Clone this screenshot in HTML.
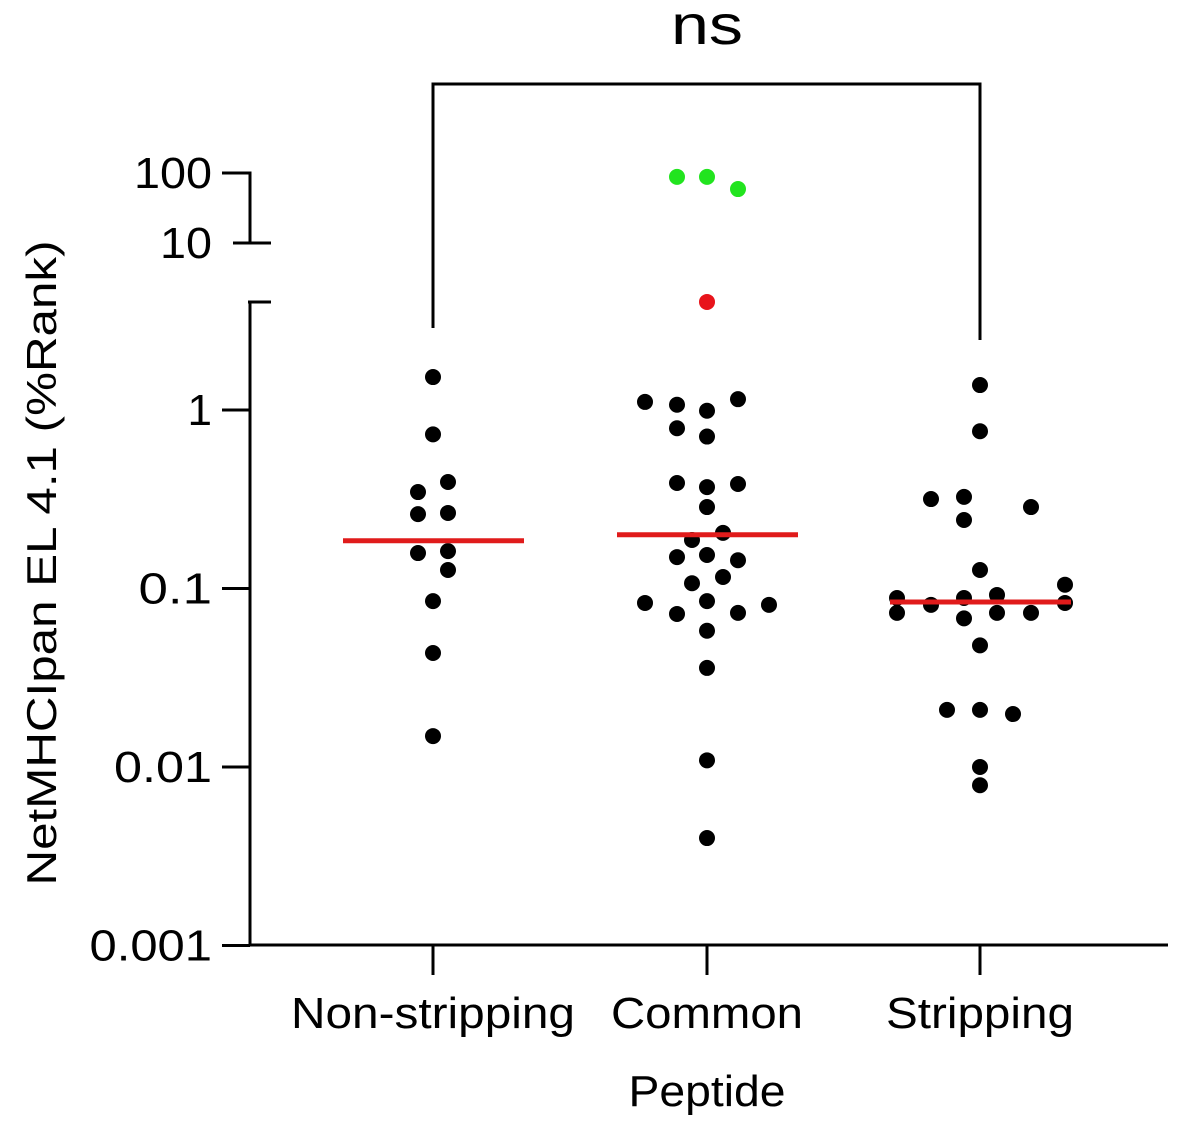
<!DOCTYPE html>
<html><head><meta charset="utf-8"><style>
html,body{margin:0;padding:0;background:#fff;}
svg{display:block;font-family:"Liberation Sans",Arial,sans-serif;}
</style></head><body>
<svg id="chart" width="1184" height="1133" viewBox="0 0 1184 1133">
<g id="axes"></g>
<g id="marks"></g>
</svg>
<script>
const categories = ["Non-stripping","Common","Stripping"];
const nonStripVals = [1.53,0.73,0.395,0.347,0.265,0.261,0.162,0.158,0.127,0.085,0.0435,0.0149];
const nonStripJit  = [0,0,15,-15,15,-15,15,-15,15,0,0,0];
const commonVals = [1.11,1.07,0.99,1.15,0.79,0.71,0.39,0.37,0.385,0.286,0.205,0.187,0.15,0.154,0.144,0.116,0.107,0.083,0.085,0.072,0.073,0.081,0.058,0.0359,0.0109,0.004];
const commonJit  = [-62,-30,0,31,-30,0,-30,0,31,0,16,-15,-30,0,31,16,-15,-62,0,-30,31,62,0,0,0,0];
const strippingVals = [1.38,0.76,0.317,0.326,0.242,0.286,0.127,0.105,0.0885,0.073,0.081,0.0885,0.068,0.092,0.073,0.073,0.083,0.048,0.0209,0.0209,0.0198,0.01,0.0079];
const strippingJit  = [0,0,-49,-16,-16,51,0,85,-83,-83,-49,-16,-16,17,17,51,85,0,-33,0,33,0,0];
const outlierRedVals = [4.03];
const outlierGreenVals = [88,88,59];
const outlierGreenJit = [-30,0,31];
const medians = [0.185,0.2,0.084];
const lowerTicks = [1,0.1,0.01,0.001];
const lowerTickLabels = ["1","0.1","0.01","0.001"];
const upperTicks = [100,10];
const upperTickLabels = ["100","10"];

const NS="http://www.w3.org/2000/svg";
const axes=document.getElementById('axes'), marks=document.getElementById('marks');
function yLow(v){return 410-Math.log10(v)*178.5;}
function yUp(v){return 173+(2-Math.log10(v))*70;}
function xCat(i){return [433,707,980][i];}
function mk(tag,attrs,parent){const e=document.createElementNS(NS,tag);for(const k in attrs)e.setAttribute(k,attrs[k]);parent.appendChild(e);return e;}
function line(x1,y1,x2,y2,name,col,w){const l=mk('line',{x1,y1,x2,y2,stroke:col||'#000','stroke-width':w||3},axes);

return l;}
function text(x,y,s,size,anchor,name,len){const t=mk('text',{x,y,'font-size':size,'text-anchor':anchor||'middle',fill:'#000'},axes);t.textContent=s;
if(len){t.setAttribute('textLength',len);t.setAttribute('lengthAdjust','spacingAndGlyphs');}

return t;}

line(250,302,250,946.5,'y-axis-lower');
line(250,171.5,250,243,'y-axis-upper');
line(248,302,271,302,'y-axis-break-mark-lower');
line(233,243,271,243,'y-axis-break-mark-upper');
line(250,945,1168,945,'x-axis');
lowerTicks.forEach((v,i)=>{const y=yLow(v);line(222,y,250,y,'y-tick');text(212,y+15,lowerTickLabels[i],44,'end','y-tick-label',lowerTickLabels[i].length*24.5);});
upperTicks.forEach((v,i)=>{const y=yUp(v);if(i===0)line(222,y,250,y,'y-tick');text(212,y+15,upperTickLabels[i],44,'end','y-tick-label',upperTickLabels[i].length*26);});
const catLens=[284,192,188];
categories.forEach((c,i)=>{const x=xCat(i);line(x,945,x,975,'x-tick');text(x,1028,c,44,'middle','x-tick-label',catLens[i]);});
text(707,1106,'Peptide',44,'middle','x-axis-title',157);
const yt=text(0,0,'NetMHCIpan EL 4.1  (%Rank)',42,'middle','y-axis-title',645);
yt.setAttribute('transform','translate(56,563) rotate(-90)');
yt.setAttribute('xml:space','preserve');
const br=mk('polyline',{points:`${xCat(0)},328 ${xCat(0)},84 ${xCat(2)},84 ${xCat(2)},340`,fill:'none',stroke:'#000','stroke-width':3},axes);


text(707,44,'ns',56,'middle','significance-label',72);

function dot(x,y,col,name){const c=mk('circle',{cx:x,cy:y,r:8,fill:col},marks);

}
const groups=[[nonStripVals,nonStripJit],[commonVals,commonJit],[strippingVals,strippingJit]];
groups.forEach((g,i)=>g[0].forEach((v,j)=>dot(xCat(i)+g[1][j],yLow(v),'#000','data-point')));
outlierRedVals.forEach(v=>dot(xCat(1),yLow(v),'#e8141b','outlier-point-red'));
outlierGreenVals.forEach((v,j)=>dot(xCat(1)+outlierGreenJit[j],yUp(v),'#22e41f','outlier-point-green'));
medians.forEach((m,i)=>{const y=yLow(m);const l=mk('line',{x1:xCat(i)-90,y1:y,x2:xCat(i)+91,y2:y,stroke:'#e01b1b','stroke-width':5},marks);

});
</script>
</body></html>
